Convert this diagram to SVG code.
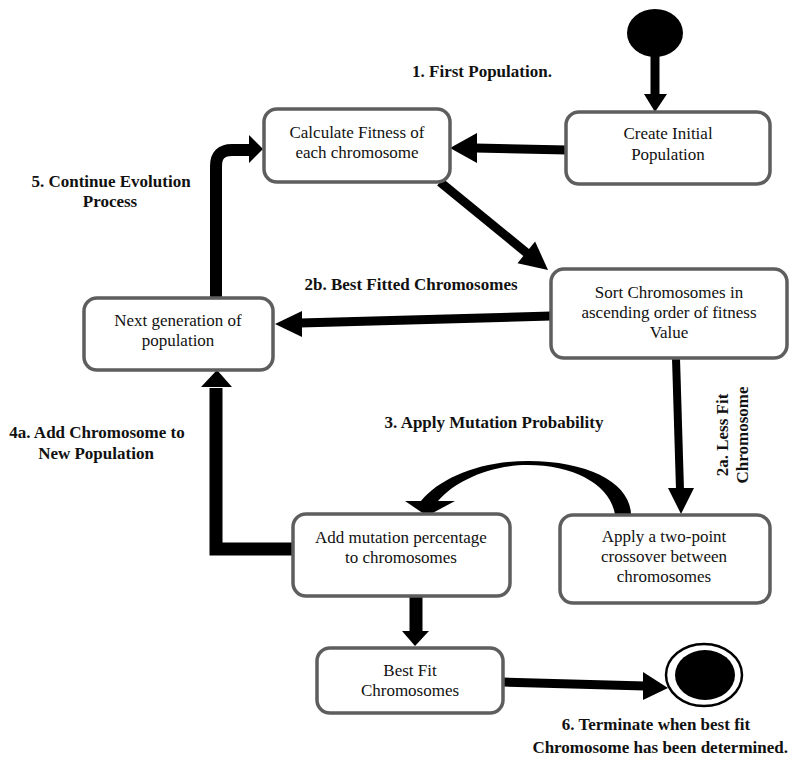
<svg xmlns="http://www.w3.org/2000/svg" width="792" height="780" viewBox="0 0 792 780">
  <style>
    .box { fill: #ffffff; stroke: #5e5e5e; stroke-width: 3.5; }
    .node-text { font-family: 'Liberation Serif', 'Times New Roman', serif; font-size: 17px; fill: #111; text-anchor: middle; }
    .label { font-family: 'Liberation Serif', 'Times New Roman', serif; font-size: 17px; font-weight: bold; fill: #111; text-anchor: middle; }
    .wire { stroke: #000; fill: none; stroke-linecap: butt; }
    .head { fill: #000; stroke: none; }
  </style>
  <rect width="792" height="780" fill="#ffffff"/>

  <!-- connectors -->
  <g id="connectors">
    <!-- start -> create initial population -->
    <line class="wire" x1="655" y1="55" x2="655" y2="96" stroke-width="9"/>
    <polygon class="head" points="644,94 667,94 655,112"/>
    <!-- create -> calculate fitness -->
    <line class="wire" x1="567" y1="150" x2="475" y2="148" stroke-width="9"/>
    <polygon class="head" points="477,133 477,163 450,148"/>
    <!-- calculate -> sort -->
    <line class="wire" x1="440" y1="182" x2="528" y2="254" stroke-width="9"/>
    <polygon class="head" points="517.5,263.2 535.1,241.4 548,270"/>
    <!-- sort -> next generation -->
    <line class="wire" x1="551" y1="316" x2="300" y2="323" stroke-width="9"/>
    <polygon class="head" points="302,311 302,337 275,324"/>
    <!-- next generation -> calculate fitness (loop) -->
    <path class="wire" d="M 216 297 L 216 166 Q 216 150 232 150 L 252 150" stroke-width="12"/>
    <polygon class="head" points="249,135 249,163 263,149"/>
    <!-- sort -> crossover -->
    <line class="wire" x1="676" y1="358" x2="680" y2="490" stroke-width="8"/>
    <polygon class="head" points="668,488 694,488 681,514"/>
    <!-- crossover -> mutation (curved, tapered) -->
    <path class="head" d="M 631 515 C 631 484 590 461 528 461 C 480 461 440 478 421 501 L 405 501 L 427 516 L 455 501 L 438 501 C 455 481 490 465 528 465 C 574 465 611 485 615 515 Z"/>
    <!-- mutation -> next generation -->
    <path class="wire" d="M 293 549 L 216 549 L 216 388" stroke-width="13" stroke-linejoin="miter"/>
    <polygon class="head" points="201,387 232,387 217,370"/>
    <!-- mutation -> best fit -->
    <line class="wire" x1="416" y1="596" x2="416" y2="633" stroke-width="13"/>
    <polygon class="head" points="402,631 429,631 415,646"/>
    <!-- best fit -> end -->
    <line class="wire" x1="503" y1="682" x2="645" y2="686" stroke-width="9"/>
    <polygon class="head" points="643,672 643,700 668,688"/>
  </g>

  <!-- start / end states -->
  <g id="start">
    <ellipse cx="655" cy="33" rx="28" ry="24" fill="#000"/>
  </g>
  <g id="end">
    <ellipse cx="704" cy="675" rx="38" ry="31" fill="#fff" stroke="#000" stroke-width="2.5"/>
    <ellipse cx="705" cy="675" rx="30" ry="25" fill="#000"/>
  </g>

  <!-- nodes -->
  <g id="create-initial">
    <rect class="box" x="566" y="112" width="204" height="72" rx="13"/>
    <text class="node-text" x="668" y="139">Create Initial</text>
    <text class="node-text" x="668" y="160">Population</text>
  </g>
  <g id="calculate-fitness">
    <rect class="box" x="264" y="109" width="186" height="73" rx="13"/>
    <text class="node-text" x="357" y="138">Calculate Fitness of</text>
    <text class="node-text" x="357" y="158">each chromosome</text>
  </g>
  <g id="sort">
    <rect class="box" x="551" y="269" width="236" height="89" rx="13"/>
    <text class="node-text" x="669" y="298">Sort Chromosomes in</text>
    <text class="node-text" x="669" y="318">ascending order of fitness</text>
    <text class="node-text" x="669" y="338">Value</text>
  </g>
  <g id="next-generation">
    <rect class="box" x="84" y="298" width="189" height="72" rx="13"/>
    <text class="node-text" x="178" y="326">Next generation of</text>
    <text class="node-text" x="178" y="346">population</text>
  </g>
  <g id="crossover">
    <rect class="box" x="560" y="515" width="210" height="88" rx="13"/>
    <text class="node-text" x="664" y="542">Apply a two-point</text>
    <text class="node-text" x="664" y="562">crossover between</text>
    <text class="node-text" x="664" y="582">chromosomes</text>
  </g>
  <g id="mutation">
    <rect class="box" x="293" y="514" width="217" height="82" rx="13"/>
    <text class="node-text" x="401" y="543">Add mutation percentage</text>
    <text class="node-text" x="401" y="563">to chromosomes</text>
  </g>
  <g id="best-fit">
    <rect class="box" x="317" y="648" width="186" height="65" rx="13"/>
    <text class="node-text" x="410" y="676">Best Fit</text>
    <text class="node-text" x="410" y="696">Chromosomes</text>
  </g>

  <!-- step labels -->
  <g id="labels">
    <text class="label" x="482" y="77">1. First Population.</text>
    <text class="label" x="111" y="187">5. Continue Evolution</text>
    <text class="label" x="110" y="207">Process</text>
    <text class="label" x="411" y="290">2b. Best Fitted Chromosomes</text>
    <text class="label" x="494" y="428">3. Apply Mutation Probability</text>
    <text class="label" x="97" y="438">4a. Add Chromosome to</text>
    <text class="label" x="96" y="459">New Population</text>
    <g transform="translate(728 435) rotate(-90)">
      <text class="label" x="0" y="0">2a. Less Fit</text>
      <text class="label" x="0" y="20">Chromosome</text>
    </g>
    <text class="label" x="656" y="730">6. Terminate when best fit</text>
    <text class="label" x="788" y="753" style="text-anchor: end">Chromosome has been determined.</text>
  </g>
</svg>
